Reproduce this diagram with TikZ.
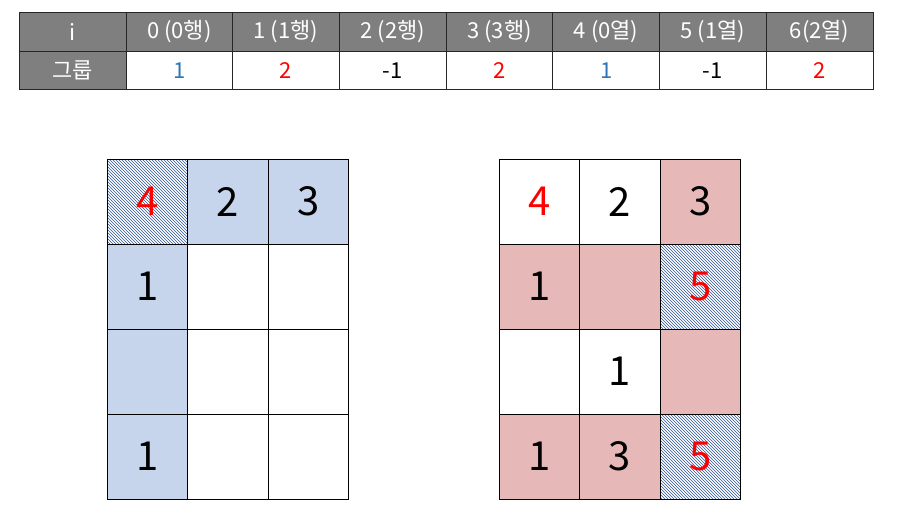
\documentclass[tikz,border=0pt]{standalone}
\usepackage{fontspec}
\setmainfont{Noto Sans CJK KR}
\usetikzlibrary{patterns}
\definecolor{hdr}{HTML}{7F7F7F}
\definecolor{lblue}{HTML}{C6D5EB}
\definecolor{lpink}{HTML}{E6B9B8}
\definecolor{hatchc}{HTML}{2F5597}
\definecolor{tblue}{HTML}{2E75B6}
\definecolor{tred}{HTML}{FF0000}
\begin{document}
\begin{tikzpicture}[x=1pt,y=-1pt,
  tcell/.style={draw=black!85, line width=0.8pt, minimum width=106.7pt, minimum height=38.5pt, inner sep=0pt, outer sep=0pt, anchor=north west, font=\fontsize{22}{22}\selectfont},
  hcell/.style={tcell, fill=hdr, text=white},
  fcell/.style={tcell, fill=hdr, text=white, minimum width=107pt},
  gcell/.style={draw=black, line width=0.8pt, minimum width=80.5pt, minimum height=85pt, inner sep=0pt, outer sep=0pt, anchor=north west, font=\fontsize{40}{40}\selectfont},
  bl/.style={fill=lblue},
  pk/.style={fill=lpink},
  ht/.style={pattern=north west lines, pattern color=hatchc},
  rd/.style={text=tred},
  bu/.style={text=tblue}]
\useasboundingbox (0,0) rectangle (910,530);
\fill[white] (0,0) rectangle (910,530);
% table
\node[fcell] (h0) at (19,12.5) {i};
\node[hcell] (h1) at (126,12.5) {0 (0행)};
\node[hcell] (h2) at (232.7,12.5) {1 (1행)};
\node[hcell] (h3) at (339.4,12.5) {2 (2행)};
\node[hcell] (h4) at (446.1,12.5) {3 (3행)};
\node[hcell] (h5) at (552.8,12.5) {4 (0열)};
\node[hcell] (h6) at (659.5,12.5) {5 (1열)};
\node[hcell] (h7) at (766.2,12.5) {6(2열)};
\node[fcell] (g0) at (19,51) {그룹};
\node[tcell,bu] (g1) at (126,51) {1};
\node[tcell,rd] (g2) at (232.7,51) {2};
\node[tcell] (g3) at (339.4,51) {-1};
\node[tcell,rd] (g4) at (446.1,51) {2};
\node[tcell,bu] (g5) at (552.8,51) {1};
\node[tcell] (g6) at (659.5,51) {-1};
\node[tcell,rd] (g7) at (766.2,51) {2};
% left grid
\node[gcell,ht,rd] (a00) at (107,159) {4};
\node[gcell,bl] (a01) at (187.5,159) {2};
\node[gcell,bl] (a02) at (268,159) {3};
\node[gcell,bl] (a10) at (107,244) {1};
\node[gcell] (a11) at (187.5,244) {};
\node[gcell] (a12) at (268,244) {};
\node[gcell,bl] (a20) at (107,329) {};
\node[gcell] (a21) at (187.5,329) {};
\node[gcell] (a22) at (268,329) {};
\node[gcell,bl] (a30) at (107,414) {1};
\node[gcell] (a31) at (187.5,414) {};
\node[gcell] (a32) at (268,414) {};
% right grid
\node[gcell,rd] (b00) at (499,159) {4};
\node[gcell] (b01) at (579.5,159) {2};
\node[gcell,pk] (b02) at (660,159) {3};
\node[gcell,pk] (b10) at (499,244) {1};
\node[gcell,pk] (b11) at (579.5,244) {};
\node[gcell,ht,rd] (b12) at (660,244) {5};
\node[gcell] (b20) at (499,329) {};
\node[gcell] (b21) at (579.5,329) {1};
\node[gcell,pk] (b22) at (660,329) {};
\node[gcell,pk] (b30) at (499,414) {1};
\node[gcell,pk] (b31) at (579.5,414) {3};
\node[gcell,ht,rd] (b32) at (660,414) {5};
\end{tikzpicture}
\end{document}
